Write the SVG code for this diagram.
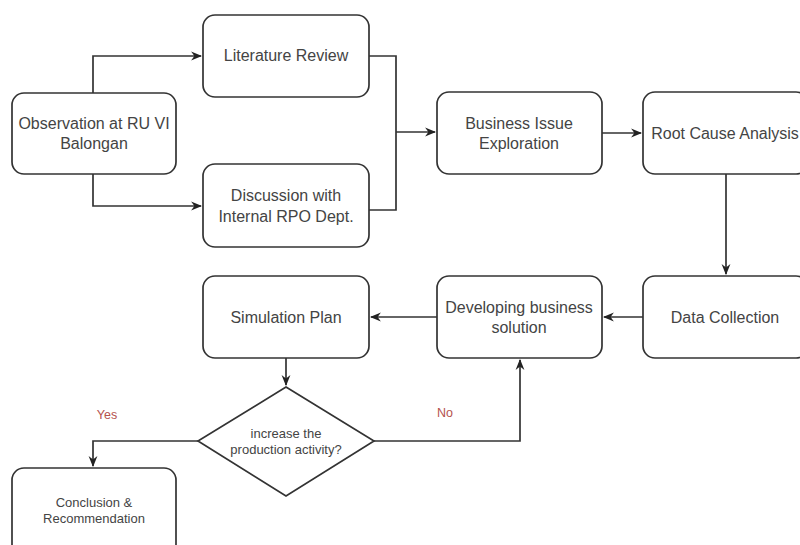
<svg xmlns="http://www.w3.org/2000/svg" width="800" height="545" viewBox="0 0 800 545">
<defs>
<marker id="arr" viewBox="0 0 10 10" refX="9" refY="5" markerWidth="11" markerHeight="11" markerUnits="userSpaceOnUse" orient="auto">
<path d="M0,1 L10,5 L0,9 L3,5 Z" fill="#222"/>
</marker>
</defs>
<style>
.box{fill:#fff;stroke:#333;stroke-width:1.7}
.t{font-family:"Liberation Sans",Arial,sans-serif;font-size:16px;fill:#444;text-anchor:middle}
.s{font-family:"Liberation Sans",Arial,sans-serif;font-size:13px;fill:#444;text-anchor:middle}
.lbl{font-family:"Liberation Sans",Arial,sans-serif;font-size:12.5px;fill:#b5524e;text-anchor:middle}
.c{fill:none;stroke:#333;stroke-width:1.7}
</style>
<rect width="800" height="545" fill="#fff"/>
<g id="connectors">
<path class="c" d="M93,93 V56 H201" marker-end="url(#arr)"/>
<path class="c" d="M93,174 V206 H201" marker-end="url(#arr)"/>
<path class="c" d="M369,56 H396 V210 H369"/>
<path class="c" d="M396,132 H435" marker-end="url(#arr)"/>
<path class="c" d="M602,133 H641" marker-end="url(#arr)"/>
<path class="c" d="M726,174 V274" marker-end="url(#arr)"/>
<path class="c" d="M643,317 H604" marker-end="url(#arr)"/>
<path class="c" d="M437,317 H371" marker-end="url(#arr)"/>
<path class="c" d="M286,358 V385" marker-end="url(#arr)"/>
<path class="c" d="M198,441 H93 V466" marker-end="url(#arr)"/>
<path class="c" d="M374,441 H520 V360" marker-end="url(#arr)"/>
<text class="lbl" x="107" y="419">Yes</text>
<text class="lbl" x="445" y="417">No</text>
</g>
<g id="observation">
<rect class="box" x="12" y="93" width="164" height="81" rx="12"/>
<text class="t" x="94" y="129">Observation at RU VI</text>
<text class="t" x="94" y="149">Balongan</text>
</g>
<g id="literature">
<rect class="box" x="203" y="15" width="166" height="82" rx="12"/>
<text class="t" x="286" y="61">Literature Review</text>
</g>
<g id="discussion">
<rect class="box" x="203" y="164" width="166" height="83" rx="12"/>
<text class="t" x="286" y="201">Discussion with</text>
<text class="t" x="286" y="222">Internal RPO Dept.</text>
</g>
<g id="business">
<rect class="box" x="437" y="92" width="165" height="82" rx="12"/>
<text class="t" x="519" y="129">Business Issue</text>
<text class="t" x="519" y="149">Exploration</text>
</g>
<g id="rootcause">
<rect class="box" x="643" y="92" width="165" height="82" rx="12"/>
<text class="t" x="725" y="139">Root Cause Analysis</text>
</g>
<g id="datacollection">
<rect class="box" x="643" y="276" width="165" height="82" rx="12"/>
<text class="t" x="725" y="323">Data Collection</text>
</g>
<g id="developing">
<rect class="box" x="437" y="276" width="165" height="82" rx="12"/>
<text class="t" x="519" y="313">Developing business</text>
<text class="t" x="519" y="333">solution</text>
</g>
<g id="simulation">
<rect class="box" x="203" y="276" width="166" height="82" rx="12"/>
<text class="t" x="286" y="323">Simulation Plan</text>
</g>
<g id="decision">
<polygon class="box" points="286,387 374,441 286,496 198,441"/>
<text class="s" x="286" y="438">increase the</text>
<text class="s" x="286" y="454">production activity?</text>
</g>
<g id="conclusion">
<rect class="box" x="12" y="468" width="164" height="90" rx="12"/>
<text class="s" x="94" y="507">Conclusion &amp;</text>
<text class="s" x="94" y="523">Recommendation</text>
</g>
</svg>
